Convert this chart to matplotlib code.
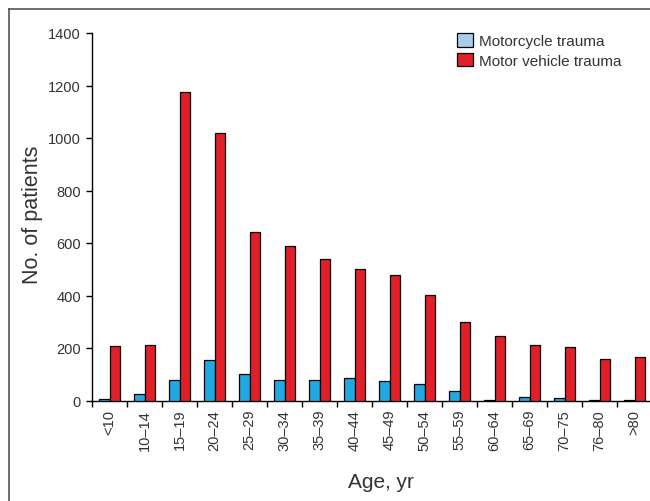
import matplotlib
matplotlib.use("Agg")
import matplotlib.pyplot as plt
import numpy as np
from matplotlib.patches import Patch
from matplotlib.lines import Line2D

categories = ["<10", "10\u201314", "15\u201319", "20\u201324", "25\u201329", "30\u201334",
              "35\u201339", "40\u201344", "45\u201349", "50\u201354", "55\u201359", "60\u201364",
              "65\u201369", "70\u201375", "76\u201380", ">80"]
motorcycle = [5, 26, 77, 155, 102, 78, 77, 85, 74, 62, 36, 3, 12, 9, 2, 2]
motor_vehicle = [206, 211, 1175, 1019, 642, 589, 540, 501, 478, 402, 299, 246, 211, 204, 158, 165]
yticks = [0, 200, 400, 600, 800, 1000, 1200, 1400]

plt.rcParams['font.family'] = ['Liberation Sans', 'DejaVu Sans']
txt = '#333333'

fig = plt.figure(figsize=(6.5, 5.02), dpi=100)
ax = fig.add_axes([92/650, 100.5/502, 560/650, 367.5/502])

x = np.arange(len(categories)) + 0.5
w = 0.286
blue = '#22A8E1'
red = '#E01F29'
ax.bar(x - w/2, motorcycle, w, color=blue, edgecolor='black', linewidth=0.9, zorder=3)
ax.bar(x + w/2, motor_vehicle, w, color=red, edgecolor='black', linewidth=0.9, zorder=3)

ax.set_xlim(0, len(categories))
ax.set_ylim(0, 1400)
ax.set_yticks(yticks)
ax.set_yticklabels([str(v) for v in yticks], fontsize=10.5, color=txt)
ax.set_xticks(np.arange(len(categories) + 1))
ax.set_xticklabels([])
ax.set_xticks(x, minor=True)
ax.set_xticklabels(categories, minor=True, rotation=90, fontsize=10.5, color=txt, va='top')
ax.tick_params(axis='x', which='minor', length=0, pad=6)
ax.tick_params(axis='x', which='major', length=4, width=1, direction='out')
ax.tick_params(axis='y', length=4, width=1, direction='out', pad=4)

for s in ['top', 'right']:
    ax.spines[s].set_visible(False)
ax.spines['left'].set_linewidth(1)
ax.spines['bottom'].set_linewidth(1)

fig.text(381/650, 14/502, "Age, yr", fontsize=15, color=txt, ha='center', va='baseline')
fig.text(32.5/650, 1 - 215/502, "No. of patients", fontsize=15.5, color=txt,
         ha='center', va='center', rotation=90)

handles = [Patch(facecolor='#A6CDEB', edgecolor='black', linewidth=0.9),
           Patch(facecolor=red, edgecolor='black', linewidth=0.9)]
leg = fig.legend(handles, ["Motorcycle trauma", "Motor vehicle trauma"],
                 loc='upper left', bbox_to_anchor=(457/650, 1 - 34/502),
                 frameon=False, fontsize=11, handlelength=1.05, handleheight=1.0,
                 handletextpad=0.4, labelspacing=0.3, borderaxespad=0, borderpad=0)
for t in leg.get_texts():
    t.set_color(txt)

# figure frame (top and left)
fig.add_artist(Line2D([9/650, 1], [1 - 10/502, 1 - 10/502], transform=fig.transFigure,
                      color='#555555', linewidth=1.2))
fig.add_artist(Line2D([9/650, 9/650], [0, 1 - 10/502], transform=fig.transFigure,
                      color='#555555', linewidth=1.2))

fig.savefig("out.png", dpi=100)
